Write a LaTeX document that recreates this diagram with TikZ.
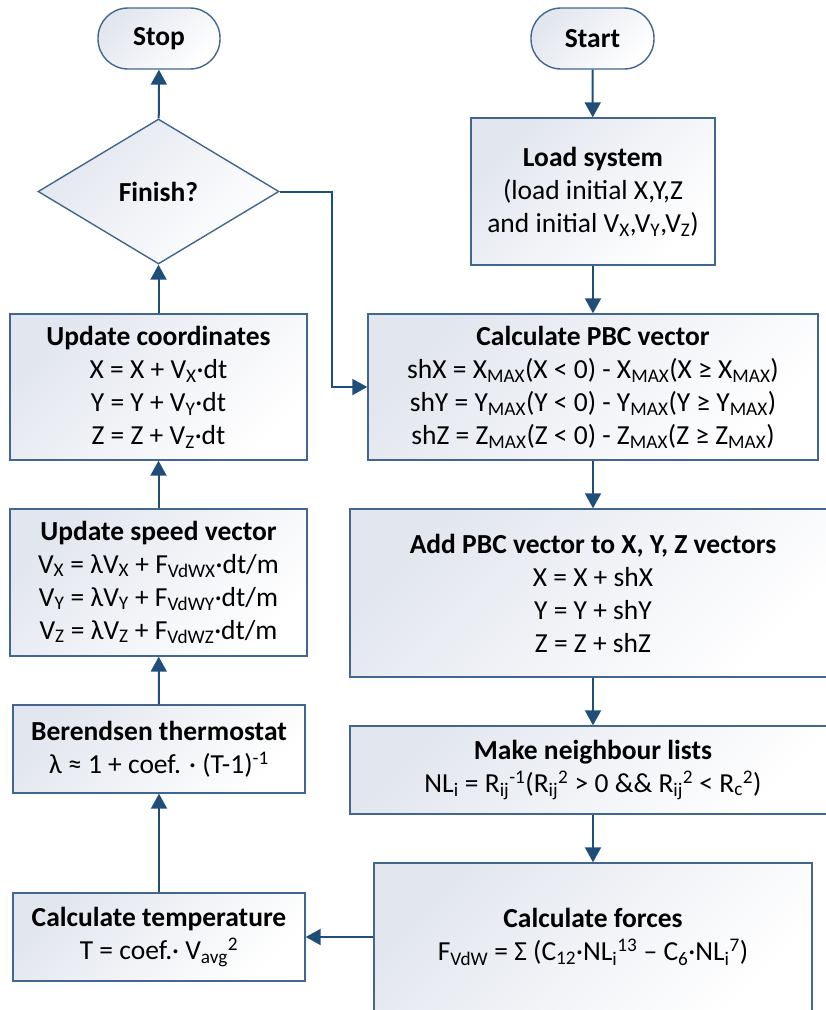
\documentclass[tikz,border=0pt]{standalone}
\usepackage{fontspec}
\setmainfont{Carlito}
\usetikzlibrary{shapes.geometric,arrows.meta}
\definecolor{bordercol}{HTML}{41678F}
\definecolor{arrowcol}{HTML}{1F4E79}
\definecolor{fillcol}{HTML}{E2E6EE}
\begin{document}
\begin{tikzpicture}[x=1pt,y=-1pt,
  every node/.style={font=\fontsize{27.5}{33}\selectfont, align=center, inner sep=0pt},
  boxbase/.style={draw=bordercol, line width=1.4pt, top color=fillcol, bottom color=white, shading angle=45},
  procbox/.style={boxbase, rectangle},
  termbox/.style={boxbase, rectangle, rounded corners=30pt},
  decbox/.style={boxbase, diamond},
  flow/.style={draw=arrowcol, line width=2pt, -{Triangle[length=15pt,width=16pt]}}
]
\useasboundingbox (0,0) rectangle (826,1010);

\node[termbox, minimum width=122pt, minimum height=61pt] (stop) at (159,38.5) {\textbf{Stop}};
\node[termbox, minimum width=123pt, minimum height=61pt] (start) at (592.5,38.5) {\textbf{Start}};
\node[procbox, minimum width=244pt, minimum height=147pt] (load) at (593,191.5)
  {\textbf{Load system}\\(load initial X,Y,Z\\and initial V\textsubscript{X},V\textsubscript{Y},V\textsubscript{Z})};
\node[decbox, minimum width=241pt, minimum height=145pt] (finish) at (158.5,191.5) {\textbf{Finish?}};
\node[procbox, minimum width=297pt, minimum height=146pt] (coord) at (158.5,387)
  {\textbf{Update coordinates}\\X = X + V\textsubscript{X}·dt\\Y = Y + V\textsubscript{Y}·dt\\Z = Z + V\textsubscript{Z}·dt};
\node[procbox, minimum width=450pt, minimum height=146pt] (pbc) at (593,387)
  {\textbf{Calculate PBC vector}\\
   shX = X\textsubscript{MAX}(X < 0) - X\textsubscript{MAX}(X ≥ X\textsubscript{MAX})\\
   shY = Y\textsubscript{MAX}(Y < 0) - Y\textsubscript{MAX}(Y ≥ Y\textsubscript{MAX})\\
   shZ = Z\textsubscript{MAX}(Z < 0) - Z\textsubscript{MAX}(Z ≥ Z\textsubscript{MAX})};
\node[procbox, minimum width=297pt, minimum height=147pt] (speed) at (158.5,582.5)
  {\textbf{Update speed vector}\\
   V\textsubscript{X} = λV\textsubscript{X} + F\textsubscript{VdWX}·dt/m\\
   V\textsubscript{Y} = λV\textsubscript{Y} + F\textsubscript{VdWY}·dt/m\\
   V\textsubscript{Z} = λV\textsubscript{Z} + F\textsubscript{VdWZ}·dt/m};
\node[procbox, minimum width=486pt, minimum height=168pt] (add) at (593,593)
  {\textbf{Add PBC vector to X, Y, Z vectors}\\X = X + shX\\Y = Y + shY\\Z = Z + shZ};
\node[procbox, minimum width=486pt, minimum height=88pt] (nl) at (593,770)
  {\textbf{Make neighbour lists}\\
   NL\textsubscript{i} = R\textsubscript{ij}\textsuperscript{-1}(R\textsubscript{ij}\textsuperscript{2} > 0 \&\& R\textsubscript{ij}\textsuperscript{2} < R\textsubscript{c}\textsuperscript{2})};
\node[procbox, minimum width=438pt, minimum height=148pt] (forces) at (593,937)
  {\textbf{Calculate forces}\\
   F\textsubscript{VdW} = Σ (C\textsubscript{12}·NL\textsubscript{i}\textsuperscript{13} – C\textsubscript{6}·NL\textsubscript{i}\textsuperscript{7})};
\node[procbox, minimum width=292pt, minimum height=88pt] (beren) at (159,749)
  {\textbf{Berendsen thermostat}\\λ ≈ 1 + coef. · (T-1)\textsuperscript{-1}};
\node[procbox, minimum width=292pt, minimum height=88pt] (temp) at (159,937)
  {\textbf{Calculate temperature}\\T = coef.· V\textsubscript{avg}\textsuperscript{2}};

\coordinate (bend) at (332,191.5);

\draw[flow] (start) -- (load);
\draw[flow] (load) -- (pbc);
\draw[flow] (pbc) -- (add);
\draw[flow] (add) -- (nl);
\draw[flow] (nl) -- (forces);
\draw[flow] (forces.west) -- (temp.east);
\draw[flow] (temp) -- (beren);
\draw[flow] (beren) -- (speed);
\draw[flow] (speed) -- (coord);
\draw[flow] (coord) -- (finish);
\draw[flow] (finish) -- (stop);
\draw[flow] (finish.east) -- (bend) |- (pbc.west);
\end{tikzpicture}
\end{document}
